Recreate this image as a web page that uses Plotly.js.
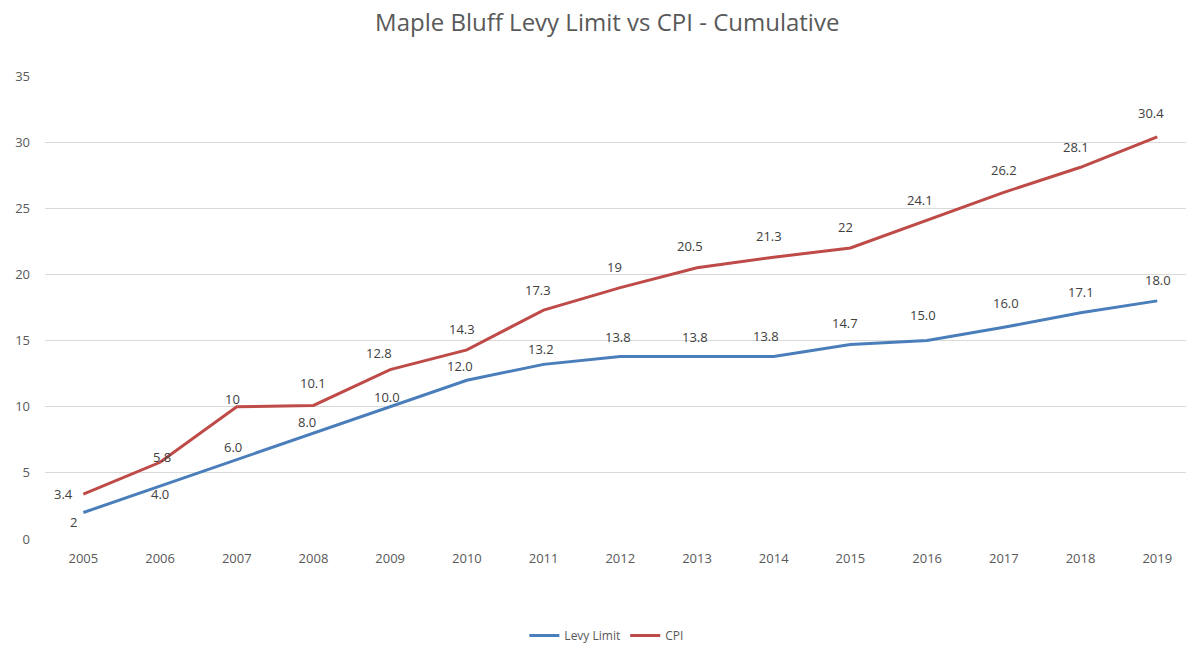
<!DOCTYPE html>
<html>
<head>
<meta charset="utf-8">
<script src="https://cdn.plot.ly/plotly-3.0.1.min.js"></script>
<style>html,body{margin:0;padding:0;background:#fff;}#chart{width:1186px;height:650px;}#err{position:absolute;left:100px;top:40px;color:red;font:12px sans-serif;}</style>
</head>
<body>
<div id="chart"></div>
<div id="err"></div>
<script>
var years = ["2005","2006","2007","2008","2009","2010","2011","2012","2013","2014","2015","2016","2017","2018","2019"];
var levyLimit = [2, 4.0, 6.0, 8.0, 10.0, 12.0, 13.2, 13.8, 13.8, 13.8, 14.7, 15.0, 16.0, 17.1, 18.0];
var levyLabels = ["2","4.0","6.0","8.0","10.0","12.0","13.2","13.8","13.8","13.8","14.7","15.0","16.0","17.1","18.0"];
var cpi = [3.4, 5.8, 10, 10.1, 12.8, 14.3, 17.3, 19, 20.5, 21.3, 22, 24.1, 26.2, 28.1, 30.4];
var cpiLabels = ["3.4","5.8","10","10.1","12.8","14.3","17.3","19","20.5","21.3","22","24.1","26.2","28.1","30.4"];
var yTicks = [0, 5, 10, 15, 20, 25, 30, 35];

// label placement offsets (pixels) - styling only
var cpiOff = [[-20,0],[2,5],[-4,8],[0,22],[-11,17],[-5,21],[-6,20],[-6,21],[-7,22],[-5,21],[-5,21],[-7,20],[0,22],[-5,20],[-6,24]];
var levyOff = [[-10,-9],[0,-8],[-4,13],[-6,11],[-3,10],[-7,14],[-3,15],[-2,19],[-2,19],[-8,20],[-5,22],[-4,26],[2,24],[0,21],[1,21]];

var blue = "#4A7EBB", red = "#BE4B48";
var annotations = [];
function addLabels(vals, labels, offs) {
  for (var i = 0; i < vals.length; i++) {
    annotations.push({
      x: i, y: vals[i], xref: "x", yref: "y",
      text: labels[i], showarrow: false,
      xanchor: "center", yanchor: "middle",
      xshift: offs[i][0], yshift: offs[i][1],
      font: {family: "Open Sans, sans-serif", size: 13, color: "#404040"}
    });
  }
}
addLabels(cpi, cpiLabels, cpiOff);
addLabels(levyLimit, levyLabels, levyOff);

var traces = [
  {x: years, y: levyLimit, name: "Levy Limit", type: "scatter", mode: "lines",
   line: {color: blue, width: 3}},
  {x: years, y: cpi, name: "CPI", type: "scatter", mode: "lines",
   line: {color: red, width: 3}}
];

var layout = {
  width: 1186, height: 650,
  margin: {l: 45, r: 0, t: 76, b: 110},
  paper_bgcolor: "#fff", plot_bgcolor: "#fff",
  font: {family: "Open Sans, sans-serif", color: "#595959", size: 12},
  title: {text: "Maple Bluff Levy Limit vs CPI - Cumulative", x: 0.512, xanchor: "center", y: 0.966, yanchor: "middle",
          font: {family: "Open Sans, sans-serif", size: 24, color: "#595959"}},
  xaxis: {type: "category", range: [-0.5, 14.375], showgrid: false, zeroline: false,
          showline: false, ticks: "", tickfont: {size: 13, color: "#595959"}, ticklabelstandoff: 10},
  yaxis: {range: [0, 35], tickvals: yTicks, showgrid: true, gridcolor: "#D9D9D9", gridwidth: 1,
          zeroline: false, showline: false, ticks: "", tickfont: {size: 13, color: "#595959"}, ticklabelstandoff: 14},
  showlegend: true,
  legend: {orientation: "h", x: 0.492, xanchor: "center", y: -0.209, yanchor: "middle",
           font: {size: 12, color: "#595959"}},
  annotations: annotations
};

try {
  Plotly.newPlot("chart", traces, layout, {displayModeBar: false}).catch(function(e){document.getElementById("err").textContent = "async: " + e;});
} catch (e) {
  document.getElementById("err").textContent = "sync: " + e;
}
</script>
</body>
</html>
